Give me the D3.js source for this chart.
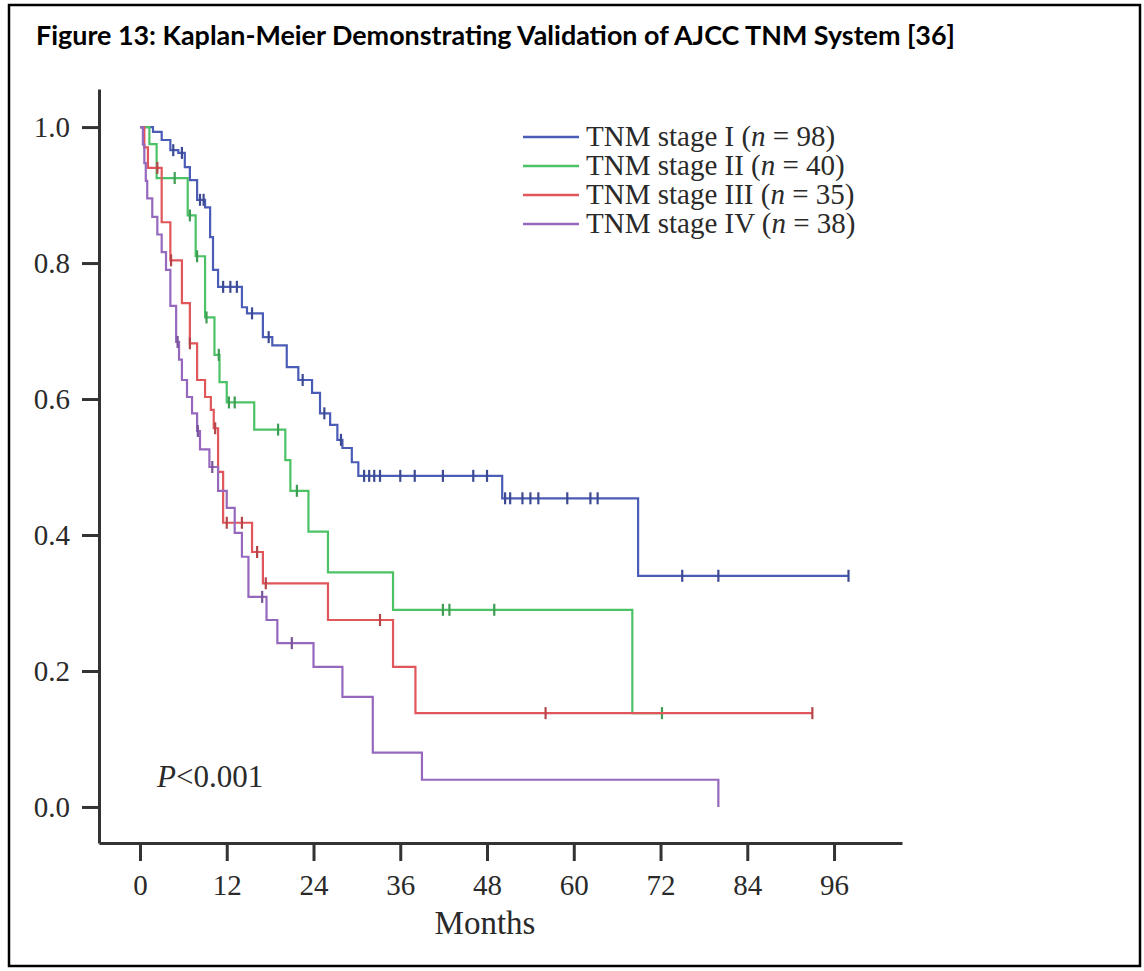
<!DOCTYPE html>
<html>
<head>
<meta charset="utf-8">
<script src="https://cdn.jsdelivr.net/npm/d3@7"></script>
<style>
  body { margin: 0; background: #fff; }
</style>
</head>
<body>
<svg width="1144" height="971"></svg>
<script>
// ---------------- data ----------------
const monthTicks = [0, 12, 24, 36, 48, 60, 72, 84, 96];
const survTicks = [0, 0.2, 0.4, 0.6, 0.8, 1.0];

const stageLabels = ["TNM stage I", "TNM stage II", "TNM stage III", "TNM stage IV"];
const stageN = [98, 40, 35, 38];
const stageColors = ["#4b5cb6", "#4cc266", "#e0565b", "#9668bd"];

// [month, survival after the drop]
const stage1Steps = [[1.8,0.993],[3,0.981],[4.2,0.966],[5.3,0.962],[6.2,0.941],[6.9,0.922],[7.9,0.893],
  [9,0.882],[9.7,0.838],[10.1,0.79],[10.8,0.765],[14.1,0.735],[14.8,0.726],[17,0.691],[18.3,0.679],
  [20.3,0.647],[21.9,0.628],[23.8,0.609],[24.9,0.579],[26.3,0.562],[27.3,0.54],[28,0.528],[29.3,0.507],
  [30.2,0.487],[50.1,0.454],[68.9,0.34]];
const stage1Censor = [4.6,5.8,8.3,8.8,11.5,12.5,13.4,15.5,17.8,22.5,25.5,27.8,31,31.7,32.4,33.2,36,38,
  41.9,46.1,48,50.5,51.2,52.9,54,55.1,59.1,62.3,63.3,75,80,98];
const stage1End = 98;

const stage2Steps = [[1.3,0.975],[2.3,0.925],[6.6,0.87],[7.7,0.81],[9,0.72],[10.3,0.665],[11,0.625],
  [12,0.595],[15.8,0.555],[20.1,0.51],[20.8,0.465],[23.3,0.405],[26,0.345],[35,0.29],[68.1,0.138]];
const stage2Censor = [4.8,6.9,7.9,9.2,10.9,12.3,13.1,19.1,21.7,41.9,42.8,49,72.2];
const stage2End = 72.2;

const stage3Steps = [[0.6,0.97],[1.1,0.94],[3,0.86],[4.2,0.804],[5.8,0.741],[6.9,0.682],[7.9,0.628],
  [9,0.603],[9.8,0.584],[10.2,0.557],[10.8,0.493],[11.5,0.418],[15.5,0.375],[17,0.329],[26,0.275],
  [35,0.206],[38.1,0.138]];
const stage3Censor = [2.4,4.3,6.9,10.4,12,14.1,16.2,17.4,33.2,56.1,93];
const stage3End = 93;

const stage4Steps = [[0.4,0.974],[0.6,0.947],[0.8,0.921],[1,0.895],[1.7,0.868],[2.4,0.842],[3,0.816],
  [3.6,0.79],[4.2,0.737],[5,0.684],[5.4,0.658],[5.8,0.628],[6.5,0.603],[7.2,0.579],[7.9,0.553],
  [8.3,0.526],[9.6,0.5],[10.8,0.465],[12,0.44],[13.1,0.403],[14.1,0.368],[15,0.309],[17.5,0.275],
  [19,0.241],[24,0.206],[28,0.162],[32.2,0.08],[39,0.04],[80,0]];
const stage4Censor = [5.2,8,10,16.9,21];
const stage4End = 80;

const series = [
  { steps: stage1Steps, censor: stage1Censor, end: stage1End },
  { steps: stage2Steps, censor: stage2Censor, end: stage2End },
  { steps: stage3Steps, censor: stage3Censor, end: stage3End },
  { steps: stage4Steps, censor: stage4Censor, end: stage4End }
];

// ---------------- drawing ----------------
const svg = d3.select("svg");

// frame
svg.append("rect")
  .attr("x", 9).attr("y", 5)
  .attr("width", 1131).attr("height", 961)
  .attr("fill", "none").attr("stroke", "#000").attr("stroke-width", 2.5);

svg.append("text")
  .attr("x", 36).attr("y", 45)
  .attr("font-family", "Lato, 'Open Sans', sans-serif")
  .attr("font-weight", "bold")
  .attr("font-size", 26)
  .attr("textLength", 919).attr("lengthAdjust", "spacingAndGlyphs")
  .text("Figure 13: Kaplan-Meier Demonstrating Validation of AJCC TNM System [36]");

// scales: axis lines run a bit past 0 and 96 / 1.0
const x = d3.scaleLinear().domain([-5.67, 105.4]).range([99, 902]);
const y = d3.scaleLinear().domain([-0.053, 1.056]).range([843, 89]);

const serif = "'Liberation Serif', 'Times New Roman', serif";

const xAxis = svg.append("g")
  .attr("transform", "translate(0,843)")
  .call(d3.axisBottom(x).tickValues(monthTicks).tickSize(18).tickSizeOuter(0).tickPadding(13)
    .tickFormat(d3.format("d")));

const yAxis = svg.append("g")
  .attr("transform", "translate(99,0)")
  .call(d3.axisLeft(y).tickValues(survTicks).tickSize(17).tickSizeOuter(0).tickPadding(12)
    .tickFormat(d3.format(".1f")));

[xAxis, yAxis].forEach(g => {
  g.select(".domain").attr("stroke", "#333").attr("stroke-width", 3);
  g.selectAll(".tick line").attr("stroke", "#333").attr("stroke-width", 3);
  g.selectAll(".tick text")
    .attr("font-family", serif).attr("font-size", 29).attr("fill", "#2a2a2a");
});

// step curves
const line = d3.line()
  .x(d => x(d[0]))
  .y(d => y(d[1]))
  .curve(d3.curveStepAfter);

function survAt(steps, t) {
  let s = 1;
  steps.forEach(st => { if (st[0] <= t) s = st[1]; });
  return s;
}

series.forEach((sr, i) => {
  const pts = [[0, 1]].concat(sr.steps);
  pts.push([sr.end, pts[pts.length - 1][1]]);

  svg.append("path")
    .datum(pts)
    .attr("d", line)
    .attr("fill", "none")
    .attr("stroke", stageColors[i])
    .attr("stroke-width", 2.2);

  svg.selectAll(".cens" + i)
    .data(sr.censor)
    .enter()
    .append("line")
      .attr("class", "cens" + i)
      .attr("x1", d => x(d)).attr("x2", d => x(d))
      .attr("y1", d => y(survAt(sr.steps, d)) - 6)
      .attr("y2", d => y(survAt(sr.steps, d)) + 6)
      .attr("stroke", d3.color(stageColors[i]).darker(0.6))
      .attr("stroke-width", 2.2);
});

// legend
const legend = svg.append("g");
stageLabels.forEach((lab, i) => {
  const ly = 137 + i * 29;
  legend.append("line")
    .attr("x1", 523).attr("x2", 579)
    .attr("y1", ly).attr("y2", ly)
    .attr("stroke", stageColors[i]).attr("stroke-width", 2.5);
  const t = legend.append("text")
    .attr("x", 586).attr("y", ly + 9)
    .attr("font-family", serif).attr("font-size", 29).attr("fill", "#2a2a2a");
  t.append("tspan").text(lab + " (");
  t.append("tspan").attr("font-style", "italic").text("n");
  t.append("tspan").text(" = " + stageN[i] + ")");
});

// p value
const p = svg.append("text")
  .attr("x", 157).attr("y", 787)
  .attr("font-family", serif).attr("font-size", 31).attr("fill", "#2a2a2a");
p.append("tspan").attr("font-style", "italic").text("P");
p.append("tspan").text("<0.001");

// axis title
svg.append("text")
  .attr("x", 485).attr("y", 934)
  .attr("text-anchor", "middle")
  .attr("font-family", serif).attr("font-size", 33).attr("fill", "#2a2a2a")
  .text("Months");
</script>
</body>
</html>
